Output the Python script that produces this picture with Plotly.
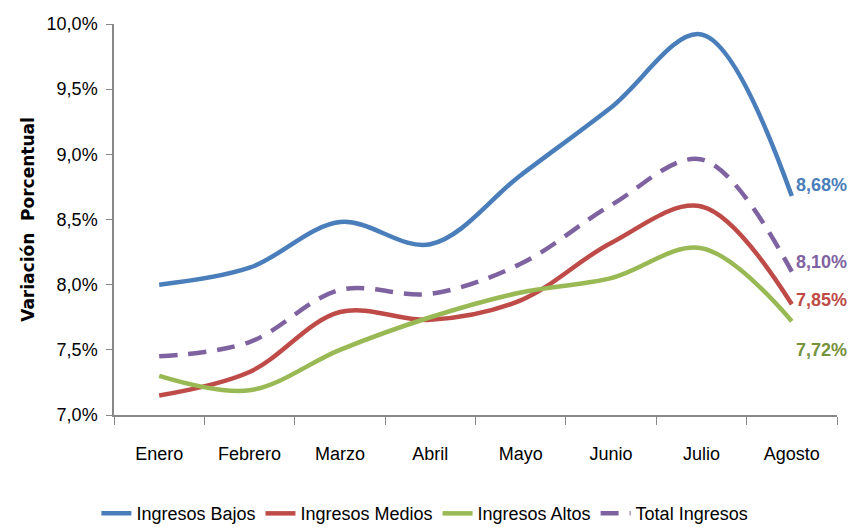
import plotly.graph_objects as go

months = ["Enero", "Febrero", "Marzo", "Abril", "Mayo", "Junio", "Julio", "Agosto"]
bajos = [8.00, 8.13, 8.48, 8.31, 8.84, 9.36, 9.92, 8.68]
medios = [7.15, 7.33, 7.79, 7.73, 7.88, 8.32, 8.60, 7.85]
altos = [7.30, 7.19, 7.50, 7.75, 7.94, 8.05, 8.28, 7.72]
total = [7.45, 7.56, 7.96, 7.93, 8.16, 8.61, 8.96, 8.10]
y_ticks = [7.0, 7.5, 8.0, 8.5, 9.0, 9.5, 10.0]
y_tick_text = ["7,0%", "7,5%", "8,0%", "8,5%", "9,0%", "9,5%", "10,0%"]

FONT = "Liberation Sans Narrow, Arial Narrow, Liberation Sans, sans-serif"

series = [
    ("Ingresos Bajos", bajos, "#4A7EBB", "solid", "#4A7EBB", 11),
    ("Ingresos Medios", medios, "#BE4B48", "solid", "#BE4B48", 4),
    ("Ingresos Altos", altos, "#98B954", "solid", "#76923C", -29),
    ("Total Ingresos", total, "#7F63A1", "18px,11px", "#7F63A1", 10),
]

fig = go.Figure()
for name, vals, col, dash, lblcol, ysh in series:
    fig.add_trace(go.Scatter(
        x=months, y=vals, name=name, mode="lines",
        line=dict(color=col, width=4.5, shape="spline", smoothing=1.0, dash=dash),
    ))
    fig.add_annotation(
        x=months[-1], y=vals[-1], text="<b>" + f"{vals[-1]:.2f}".replace(".", ",") + "%</b>",
        showarrow=False, xanchor="left", xshift=2, yshift=ysh,
        font=dict(family=FONT, size=18, color=lblcol),
    )

fig.update_layout(
    width=852, height=527,
    margin=dict(l=114, r=15, t=24, b=112, autoexpand=False),
    paper_bgcolor="white", plot_bgcolor="white",
    font=dict(family=FONT, size=18, color="black"),
    showlegend=True,
    legend=dict(orientation="h", x=0.43, xanchor="center", y=-0.205, yanchor="top",
                font=dict(family=FONT, size=18, color="black"),
                itemwidth=30, tracegroupgap=0),
    xaxis=dict(
        type="category", range=[-0.5, 7.5], tickson="boundaries", ticks="outside", ticklen=8,
        tickcolor="#888888", showline=True, linecolor="#888888", linewidth=1.5,
        showgrid=False, tickfont=dict(family=FONT, size=18, color="black"),
        ticklabelstandoff=22,
    ),
    yaxis=dict(
        range=[7.0, 10.0], tickvals=y_ticks, ticktext=y_tick_text,
        ticks="outside", ticklen=6, tickcolor="#888888",
        showline=True, linecolor="#888888", linewidth=1.5, showgrid=False,
        zeroline=False, tickfont=dict(family=FONT, size=18, color="black"),
        ticklabelstandoff=5,
        title=dict(text="<b>Variación  Porcentual</b>", font=dict(family="DejaVu Sans, sans-serif", size=17, color="black"), standoff=8),
    ),
)

fig.write_html("out.html", config={"displayModeBar": False},
               post_script="document.body.style.margin='0px';")
